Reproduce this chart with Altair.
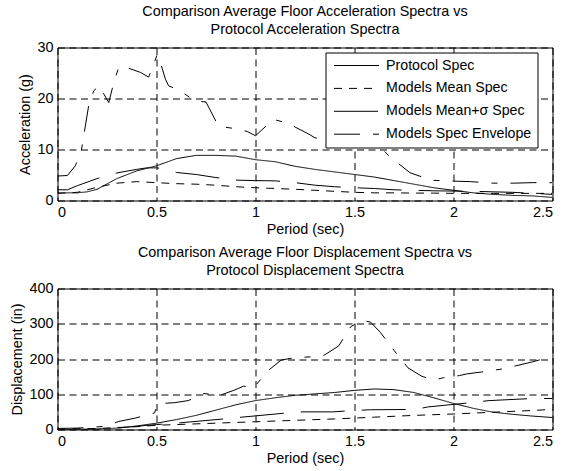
import altair as alt
import pandas as pd

FONT = "Liberation Sans"
FS = 14.4
NAMES = ["Protocol Spec", "Models Mean Spec", "Models Mean+σ Spec", "Models Spec Envelope"]
DASHES = [[1, 0], [8, 7], [44, 17], [26, 13, 6, 13]]

x_ticks = [0, 0.5, 1, 1.5, 2, 2.5]

# ---------------- Acceleration panel ----------------
acc_protocol_T = [0, 0.1, 0.15, 0.2, 0.3, 0.4, 0.5, 0.6, 0.7, 0.8, 0.9, 1.0, 1.1, 1.2, 1.3, 1.4,
                  1.5, 1.6, 1.7, 1.8, 1.9, 2.0, 2.1, 2.2, 2.3, 2.4, 2.5]
acc_protocol = [1.5, 1.5, 1.7, 2.2, 4.3, 5.8, 6.8, 8.2, 8.85, 8.85, 8.7, 8.0, 7.6, 6.7, 6.1, 5.6,
                5.1, 4.6, 3.9, 3.2, 2.5, 2.0, 1.5, 1.2, 1.0, 0.9, 0.6]

acc_mean_T = [0, 0.1, 0.2, 0.3, 0.4, 0.5, 0.6, 0.7, 0.8, 0.9, 1.0, 1.1, 1.2, 1.3, 1.4, 1.5,
              1.6, 1.7, 1.8, 1.9, 2.0, 2.1, 2.2, 2.3, 2.4, 2.5]
acc_mean = [1.4, 1.6, 2.6, 3.4, 3.7, 3.5, 3.3, 3.2, 3.0, 2.7, 2.5, 2.35, 2.2, 2.0, 1.8, 1.6,
            1.5, 1.5, 1.45, 1.45, 1.4, 1.4, 1.4, 1.4, 1.4, 1.4]

acc_sigma_T = [0, 0.05, 0.1, 0.2, 0.3, 0.4, 0.45, 0.5, 0.55, 0.6, 0.7, 0.8, 0.9, 1.0, 1.1, 1.2,
               1.3, 1.4, 1.5, 1.6, 1.7, 1.8, 1.9, 2.0, 2.1, 2.2, 2.3, 2.4, 2.5]
acc_sigma = [2.1, 2.1, 2.9, 4.3, 5.4, 6.1, 6.4, 6.4, 6.2, 5.5, 5.1, 4.5, 4.0, 3.9, 3.85, 3.5,
             3.0, 2.7, 2.5, 2.35, 2.1, 2.0, 1.9, 1.85, 1.8, 1.7, 1.6, 1.4, 1.2]

acc_env_T = [0, 0.05, 0.09, 0.12, 0.157, 0.183, 0.21, 0.259, 0.284, 0.31, 0.34, 0.42, 0.46,
             0.486, 0.503, 0.52, 0.545, 0.561, 0.62, 0.69, 0.75, 0.81, 0.84, 0.915, 0.96, 1.0,
             1.09, 1.17, 1.2, 1.27, 1.3, 1.34, 1.45, 1.55, 1.62, 1.69, 1.72, 1.78, 1.89, 2.0,
             2.085, 2.2, 2.3, 2.4, 2.5]
acc_env = [4.8, 4.9, 6.8, 9.7, 18.5, 21.5, 22.5, 19.2, 23.1, 26.2, 26.2, 25.1, 24.2,
           26.7, 28.6, 27.0, 23.8, 22.5, 21.5, 19.6, 19.3, 14.8, 14.4, 14.0, 13.5, 12.7,
           15.9, 15.1, 14.4, 13.0, 12.3, 12.0, 11.8, 11.4, 10.9, 8.1, 7.3, 5.45, 3.96, 3.8,
           3.7, 3.4, 3.4, 3.5, 3.5]

# ---------------- Displacement panel ----------------
dis_protocol_T = [0, 0.1, 0.2, 0.3, 0.4, 0.5, 0.6, 0.7, 0.8, 0.9, 1.0, 1.1, 1.2, 1.3, 1.4, 1.5,
                  1.6, 1.7, 1.8, 1.9, 2.0, 2.1, 2.2, 2.3, 2.4, 2.5]
dis_protocol = [0, 0, 1, 4, 10, 18, 28, 40, 55, 70, 82, 90, 97, 101, 105, 111,
                115, 113, 105, 90, 74, 60, 49, 43, 38, 34]

dis_mean_T = [0, 0.2, 0.4, 0.5, 0.6, 0.8, 1.0, 1.2, 1.4, 1.6, 1.8, 2.0, 2.2, 2.4, 2.5]
dis_mean = [1, 3, 8, 12, 14, 18, 22, 26, 30, 35, 40, 44, 49, 54, 57]

dis_sigma_T = [0, 0.2, 0.3, 0.4, 0.5, 0.62, 0.86, 0.93, 1.16, 1.24, 1.39, 1.47, 1.58, 1.81,
               1.87, 2.08, 2.18, 2.4, 2.5]
dis_sigma = [0, 1, 4, 9, 14, 19, 31, 35, 47, 50, 50, 53, 56, 57,
             64, 75.6, 82, 88, 88]

dis_env_T = [0, 0.1, 0.19, 0.24, 0.31, 0.39, 0.49, 0.505, 0.53, 0.59, 0.66, 0.72, 0.74, 0.79,
             0.81, 0.89, 0.94, 0.99, 1.04, 1.07, 1.13, 1.2, 1.24, 1.32, 1.35, 1.42, 1.48, 1.52,
             1.55, 1.58, 1.63, 1.7, 1.75, 1.77, 1.84, 1.9, 1.95, 2.03, 2.07, 2.14, 2.25, 2.4, 2.5]
dis_env = [3, 4, 7, 9, 23, 32, 47, 71, 74, 76, 82, 96, 102, 99,
           95, 111, 123, 118, 151, 170, 197, 204, 205, 207, 212, 237, 291, 305,
           308, 305, 276, 224, 189, 175, 151, 140, 147, 153, 158, 163, 172, 192, 208]


def frame(series):
    rows = []
    for name, ts, vs in series:
        for t, v in zip(ts, vs):
            rows.append({"T": t, "value": v, "series": name})
    return pd.DataFrame(rows)


acc_df = frame([
    (NAMES[0], acc_protocol_T, acc_protocol),
    (NAMES[1], acc_mean_T, acc_mean),
    (NAMES[2], acc_sigma_T, acc_sigma),
    (NAMES[3], acc_env_T, acc_env),
])
dis_df = frame([
    (NAMES[0], dis_protocol_T, dis_protocol),
    (NAMES[1], dis_mean_T, dis_mean),
    (NAMES[2], dis_sigma_T, dis_sigma),
    (NAMES[3], dis_env_T, dis_env),
])


def panel(df, ymax, yticks, ytitle, title_lines, height, legend):
    return alt.Chart(df).mark_line(color="black", strokeWidth=1, clip=True).encode(
        x=alt.X("T:Q", scale=alt.Scale(domain=[0, 2.5], nice=False, zero=False),
                axis=alt.Axis(values=x_ticks, format="~g", title="Period (sec)")),
        y=alt.Y("value:Q", scale=alt.Scale(domain=[0, ymax], nice=False),
                axis=alt.Axis(values=yticks, title=ytitle)),
        strokeDash=alt.StrokeDash("series:N", scale=alt.Scale(domain=NAMES, range=DASHES),
                                  legend=legend),
        detail="series:N",
    ).properties(
        width=495, height=height,
        title=alt.TitleParams(text=title_lines, fontSize=FS, font=FONT, fontWeight="normal",
                              color="black", lineHeight=18, offset=2, anchor="middle"),
    )


legend = alt.Legend(
    title=None, orient="none", legendX=268, legendY=5, fillColor="white",
    strokeColor="black", padding=6, symbolType="stroke", symbolSize=2025,
    symbolStrokeWidth=1, symbolStrokeColor="black", clipHeight=14, rowPadding=7.9,
    labelFontSize=14.2, labelFont=FONT, labelColor="black", labelOffset=6.6,
    symbolOffset=2, labelLimit=300, cornerRadius=0,
)

top = panel(acc_df, 30, [0, 10, 20, 30], "Acceleration (g)",
            ["Comparison Average Floor Acceleration Spectra vs", "Protocol Acceleration Spectra"],
            153, legend)
bottom = panel(dis_df, 400, [0, 100, 200, 300, 400], "Displacement (in)",
               ["Comparison Average Floor Displacement Spectra vs", "Protocol Displacement Spectra"],
               141, None)

chart = alt.vconcat(top, bottom, spacing=88, bounds="flush").resolve_scale(
    strokeDash="independent").resolve_legend(strokeDash="independent").properties(
    padding={"left": 8.5, "top": 3.5, "right": 0, "bottom": 0},
    background="white",
).configure_view(stroke="black", strokeWidth=1).configure_axis(
    domain=False, ticks=False, grid=True, gridColor="black", gridDash=[7, 4.5], gridWidth=1,
    labelFont=FONT, labelFontSize=FS, labelColor="black", labelPadding=4.5,
    titleFont=FONT, titleFontSize=FS, titleFontWeight="normal", titleColor="black",
    titlePadding=4.5,
)

chart.save("out.html", embed_options={"renderer": "svg", "actions": False})
